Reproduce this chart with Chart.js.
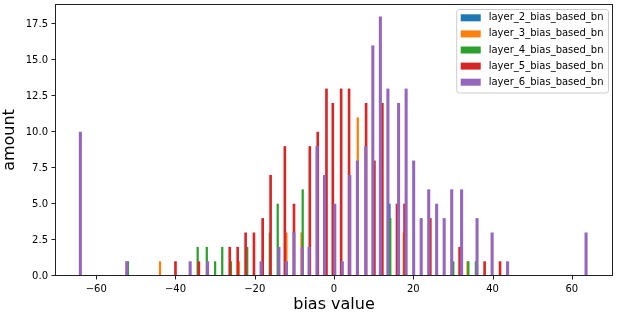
<!DOCTYPE html>
<html><head><meta charset="utf-8">
<script src="https://cdn.jsdelivr.net/npm/chart.js@4/dist/chart.umd.min.js"></script>
<style>html,body{margin:0;padding:0;background:#fff;}#wrap{width:618px;height:318px;}</style>
</head><body><div id="wrap"><canvas id="c" width="618" height="318"></canvas></div>
<script>
// ---- data ----
const seriesNames = ['layer_2_bias_based_bn','layer_3_bias_based_bn','layer_4_bias_based_bn','layer_5_bias_based_bn','layer_6_bias_based_bn'];
const layer2Values = [14.0];
const layer2Counts = [5];
const layer3Values = [-43.9, -24.0, -12.0, -8.2, 6.0, 17.6, 33.7];
const layer3Counts = [1, 1, 3, 3, 11, 3, 1];
const layer4Values = [-52.0, -34.4, -32.1, -30.0, -28.2, -26.0, -21.9, -16.2, -14.2, -7.9, 14.2, 30.1, 33.9, 35.8];
const layer4Counts = [1, 2, 2, 1, 2, 1, 2, 3, 5, 6, 4, 1, 1, 1];
const layer5Values = [-40.0, -34.1, -26.3, -24.3, -22.3, -20.2, -18.0, -16.0, -12.4, -10.1, -6.1, -4.1, -1.9, -0.3, 1.8, 3.8, 8.1, 10.2, 12.2, 15.9, 17.8, 24.3, 31.7, 38.0, 41.9];
const layer5Counts = [1, 1, 2, 2, 3, 3, 4, 7, 9, 5, 9, 10, 13, 12, 13, 13, 12, 8, 12, 5, 5, 4, 2, 1, 1];
const layer6Values = [-64.0, -52.3, -36.3, -31.9, -18.4, -13.9, -12.0, -10.1, -8.0, -6.3, -4.3, -2.4, 0.2, 2.1, 4.0, 5.9, 8.0, 9.8, 11.7, 13.6, 16.3, 18.2, 20.1, 22.0, 23.9, 25.9, 27.8, 29.7, 32.2, 36.1, 39.9, 43.8, 63.6];
const layer6Counts = [10, 1, 1, 1, 1, 2, 1, 3, 2, 2, 9, 7, 5, 1, 7, 8, 9, 16, 18, 13, 12, 13, 8, 4, 6, 5, 4, 6, 6, 4, 3, 1, 3];
const xTicks = [-60, -40, -20, 0, 20, 40, 60];
const yTicks = [0, 2.5, 5, 7.5, 10, 12.5, 15, 17.5];

const allValues = [layer2Values, layer3Values, layer4Values, layer5Values, layer6Values];
const allCounts = [layer2Counts, layer3Counts, layer4Counts, layer5Counts, layer6Counts];
const colors = ['#1f77b4', '#ff7f0e', '#2ca02c', '#d62728', '#9467bd'];
const thickness = [1.6, 1.6, 1.6, 2.0, 2.4];
const FONT = '"DejaVu Sans", sans-serif';

const frame = {
  id: 'frame',
  afterDatasetsDraw(chart) {
    const a = chart.chartArea, ctx = chart.ctx;
    ctx.save();
    ctx.strokeStyle = '#222';
    ctx.lineWidth = 1;
    const L = Math.round(a.left), T = Math.round(a.top), R = Math.round(a.right), B = Math.round(a.bottom);
    ctx.strokeRect(L + 0.5, T + 0.5, R - L - 1, B - T - 1);
    ctx.beginPath();
    chart.scales.x.ticks.forEach(t => {
      const px = Math.round(chart.scales.x.getPixelForValue(t.value)) + 0.5;
      ctx.moveTo(px, B); ctx.lineTo(px, B + 3.5);
    });
    chart.scales.y.ticks.forEach(t => {
      const py = Math.round(chart.scales.y.getPixelForValue(t.value)) - 0.5;
      ctx.moveTo(L, py); ctx.lineTo(L - 3.5, py);
    });
    ctx.stroke();
    ctx.restore();
  }
};

const mplLegend = {
  id: 'mplLegend',
  afterDraw(chart) {
    const a = chart.chartArea, ctx = chart.ctx;
    ctx.save();
    ctx.font = '10px ' + FONT;
    let tw = 0;
    chart.data.datasets.forEach(d => { tw = Math.max(tw, ctx.measureText(d.label).width); });
    const rowH = 16.1;
    const n = chart.data.datasets.length;
    const w = 4 + 20 + 8 + tw + 5;
    const h = n * rowH + 3;
    const right = a.right - 4.5, top = a.top + 5.5;
    const left = right - w;
    const r = 2.5;
    ctx.beginPath();
    ctx.moveTo(left + r, top);
    ctx.lineTo(right - r, top);
    ctx.quadraticCurveTo(right, top, right, top + r);
    ctx.lineTo(right, top + h - r);
    ctx.quadraticCurveTo(right, top + h, right - r, top + h);
    ctx.lineTo(left + r, top + h);
    ctx.quadraticCurveTo(left, top + h, left, top + h - r);
    ctx.lineTo(left, top + r);
    ctx.quadraticCurveTo(left, top, left + r, top);
    ctx.closePath();
    ctx.fillStyle = 'rgba(255,255,255,0.8)';
    ctx.fill();
    ctx.strokeStyle = '#cccccc';
    ctx.lineWidth = 1;
    ctx.stroke();
    chart.data.datasets.forEach((d, i) => {
      const cy = top + 8.3 + i * rowH;
      ctx.fillStyle = d.backgroundColor;
      ctx.fillRect(left + 4, cy - 3.5, 20, 7);
      ctx.fillStyle = '#000';
      ctx.textBaseline = 'middle';
      ctx.textAlign = 'left';
      ctx.fillText(d.label, left + 32, cy);
    });
    ctx.restore();
  }
};

const minus = v => (v < 0 ? '\u2212' + Math.abs(v) : String(v));

new Chart(document.getElementById('c'), {
  type: 'bar',
  data: {
    datasets: seriesNames.map((name, i) => ({
      label: name,
      data: allValues[i].map((v, j) => ({ x: v, y: allCounts[i][j] })),
      backgroundColor: colors[i],
      barThickness: thickness[i],
      grouped: false,
      borderWidth: 0,
      order: seriesNames.length - 1 - i
    }))
  },
  options: {
    responsive: false,
    animation: false,
    devicePixelRatio: 1,
    layout: { padding: { left: 0, right: 5, top: 4, bottom: 0 } },
    plugins: { legend: { display: false }, tooltip: { enabled: false } },
    scales: {
      x: {
        type: 'linear', offset: false, min: -70.4, max: 70.4,
        afterBuildTicks: s => { s.ticks = xTicks.map(v => ({ value: v })); },
        afterFit: s => { s.height = 42; s.paddingLeft = 0; s.paddingRight = 0; },
        grid: { display: false, drawOnChartArea: false, drawTicks: false },
        border: { display: false },
        ticks: { color: '#000', font: { family: FONT, size: 10 }, padding: 7, maxRotation: 0, autoSkip: false, callback: v => minus(v) },
        title: { display: true, text: 'bias value', color: '#000', font: { family: FONT, size: 16 }, padding: { top: 0, bottom: 4 } }
      },
      y: {
        type: 'linear', min: 0, max: 18.9,
        afterBuildTicks: s => { s.ticks = yTicks.map(v => ({ value: v })); },
        afterFit: s => { s.width = 55; s.paddingTop = 0; s.paddingBottom = 0; },
        grid: { display: false, drawOnChartArea: false, drawTicks: false },
        border: { display: false },
        ticks: { color: '#000', font: { family: FONT, size: 10 }, padding: 7, autoSkip: false, callback: v => Number(v).toFixed(1) },
        title: { display: true, text: 'amount', color: '#000', font: { family: FONT, size: 16 }, padding: { top: 0, bottom: 0 } }
      }
    }
  },
  plugins: [frame, mplLegend]
});
</script></body></html>
